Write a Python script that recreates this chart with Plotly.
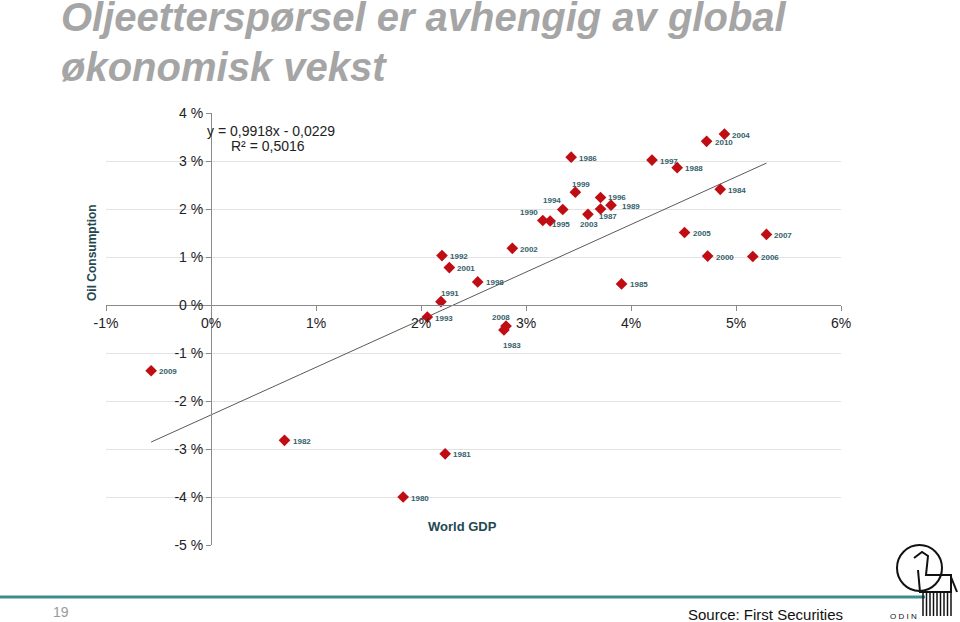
import plotly.graph_objects as go

# data: world GDP growth (x, %) vs oil consumption growth (y, %)
years = [1980, 1981, 1982, 1983, 1984, 1985, 1986, 1987, 1988, 1989, 1990,
         1991, 1992, 1993, 1994, 1995, 1996, 1997, 1998, 1999, 2000,
         2001, 2002, 2003, 2004, 2005, 2006, 2007, 2008, 2009, 2010]
gdp = [1.83, 2.23, 0.70, 2.79, 4.85, 3.91, 3.43, 3.71, 4.44, 3.81, 3.16,
       2.19, 2.20, 2.06, 3.35, 3.23, 3.71, 4.20, 2.54, 3.47, 4.73,
       2.27, 2.87, 3.59, 4.89, 4.51, 5.16, 5.29, 2.81, -0.57, 4.72]
oil = [-4.00, -3.10, -2.82, -0.52, 2.41, 0.44, 3.08, 2.00, 2.86, 2.08, 1.76,
       0.07, 1.03, -0.25, 1.99, 1.75, 2.24, 3.02, 0.48, 2.35, 1.02,
       0.78, 1.18, 1.89, 3.56, 1.51, 1.01, 1.47, -0.44, -1.37, 3.41]

x_ticks = [-1, 0, 1, 2, 3, 4, 5, 6]
x_ticktext = ["-1%", "0%", "1%", "2%", "3%", "4%", "5%", "6%"]
y_ticks = [-5, -4, -3, -2, -1, 0, 1, 2, 3, 4]
y_ticktext = ["-5 %", "-4 %", "-3 %", "-2 %", "-1 %", "0 %", "1 %", "2 %", "3 %", "4 %"]

# excel trendline as printed on the chart (values in %)
slope = 0.9918
intercept = -2.29

# label offsets in pixels (dx right, dy down); default is to the right
label_shift = {1999: (6, -8), 1996: (16, 0), 1989: (20, 1), 1994: (-11, -9),
               1990: (-14, -8), 1995: (11, 3), 1987: (7, 7), 2003: (1, 10),
               1991: (9, -8), 2008: (-5, -9), 1983: (8, 16)}

W, H = 960, 622
L, R, T, B = 106, 119, 113, 77
pw, ph = W - L - R, H - T - B
FONT = "Liberation Sans, Arial"


def px(x):
    return (x - L) / pw


def py(y):
    return (H - B - y) / ph


def note(x, y, text, size, color, **kw):
    # free text placed in slide pixels, centred on (x, y)
    d = dict(x=px(x), y=py(y), xref="paper", yref="paper", text=text,
             showarrow=False, xanchor="center", yanchor="middle",
             font=dict(family=FONT, size=size, color=color))
    d.update(kw)
    return d


fig = go.Figure()

x0, x1 = min(gdp), max(gdp)
fig.add_trace(go.Scatter(x=[x0, x1], y=[slope * x0 + intercept, slope * x1 + intercept],
                         mode="lines", line=dict(color="#5a5a5a", width=1),
                         hoverinfo="skip", showlegend=False))

fig.add_trace(go.Scatter(x=gdp, y=oil, mode="markers", text=years,
                         marker=dict(symbol="diamond", size=9, color="#c00d14"),
                         cliponaxis=False, showlegend=False))

annotations = []
for yr, gx, oy in zip(years, gdp, oil):
    dx, dy = label_shift.get(yr, (17, 1))
    annotations.append(dict(x=gx, y=oy, text=str(yr), showarrow=False,
                            xanchor="center", yanchor="middle",
                            xshift=dx, yshift=-dy,
                            font=dict(family=FONT, size=8, color="#35616a", weight="bold")))

# trendline equation
annotations.append(note(271, 131, "y = 0,9918x - 0,0229", 14, "#222"))
annotations.append(note(268, 146, "R² = 0,5016", 14, "#222"))

# axis titles
annotations.append(note(462, 526, "<b>World GDP</b>", 13, "#24484f"))
annotations.append(note(92, 253, "<b>Oil Consumption</b>", 12, "#24484f", textangle=-90))

# slide title, one annotation per line
annotations.append(note(59, 17, "<b><i>Oljeetterspørsel er avhengig av global</i></b>",
                        40, "#a5a5a5", xanchor="left"))
annotations.append(note(59, 67, "<b><i>økonomisk vekst</i></b>",
                        40, "#a5a5a5", xanchor="left"))

# footer
annotations.append(note(61, 612, "19", 14, "#9a9a9a"))
annotations.append(note(765, 614, "Source: First Securities", 15, "#111"))
annotations.append(note(903, 616, "O D I N", 8, "#111"))

shapes = [
    dict(type="line", xref="paper", yref="paper", x0=px(0), x1=px(925),
         y0=py(597), y1=py(597), line=dict(color="#3f8c8f", width=3)),
    # rough ODIN logo
    dict(type="circle", xref="paper", yref="paper", x0=px(897), x1=px(942),
         y0=py(545), y1=py(591), line=dict(color="#111", width=2)),
    dict(type="path", xref="paper", yref="paper",
         path=("M {} {} L {} {} L {} {} L {} {} L {} {} L {} {} L {} {} L {} {}").format(
             px(914), py(558), px(922), py(552), px(928), py(556), px(926), py(575),
             px(951), py(575), px(951), py(592), px(920), py(592), px(918), py(570)),
         line=dict(color="#111", width=2)),
    dict(type="line", xref="paper", yref="paper", x0=px(951), x1=px(957),
         y0=py(577), y1=py(592), line=dict(color="#111", width=2)),
]
for i in range(9):
    lx = 923 + i * 3.5
    shapes.append(dict(type="line", xref="paper", yref="paper", x0=px(lx), x1=px(lx),
                       y0=py(593), y1=py(616), line=dict(color="#111", width=1.5)))

fig.update_layout(
    width=W, height=H,
    margin=dict(l=L, r=R, t=T, b=B),
    paper_bgcolor="white", plot_bgcolor="white",
    font=dict(family=FONT, color="#222"),
    annotations=annotations, shapes=shapes,
    xaxis=dict(range=[-1, 6], tickvals=x_ticks, ticktext=x_ticktext,
               anchor="free", position=5 / 9, showgrid=False, zeroline=False,
               showline=True, linecolor="#8a8a8a", linewidth=1,
               ticks="outside", ticklen=5, tickcolor="#8a8a8a",
               tickfont=dict(size=14, color="#222")),
    yaxis=dict(range=[-5, 4], tickvals=y_ticks, ticktext=y_ticktext,
               anchor="free", position=1 / 7, showgrid=True, gridcolor="#e2e2e2",
               zeroline=False, showline=True, linecolor="#8a8a8a", linewidth=1,
               ticks="outside", ticklen=5, tickcolor="#8a8a8a",
               tickfont=dict(size=14, color="#222")),
)

# page has a default 8px body margin; drop it so the slide sits at the corner
fig.write_html("out.html", config={"displayModeBar": False},
               post_script="document.body.style.margin = '0';")
